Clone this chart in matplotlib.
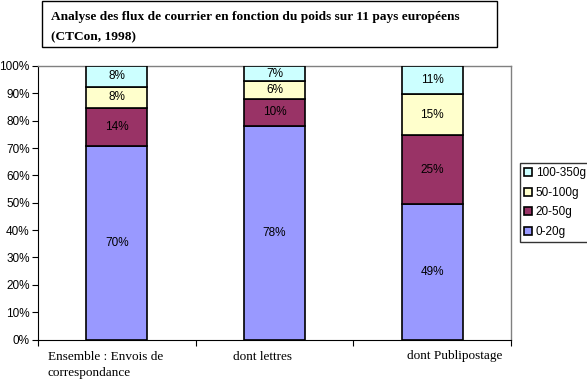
import matplotlib
matplotlib.use("Agg")
import matplotlib.pyplot as plt
import numpy as np
from matplotlib.patches import Rectangle
import matplotlib.transforms as mtransforms

categories = ["Ensemble : Envois de\ncorrespondance", "dont lettres", "dont Publipostage"]
series_names = ["0-20g", "20-50g", "50-100g", "100-350g"]
# segment shares (%) as measured from the bars
v_0_20 = [70.6, 78.2, 49.4]
v_20_50 = [14.0, 9.8, 25.2]
v_50_100 = [7.8, 6.6, 15.0]
v_100_350 = [7.6, 5.5, 10.4]
# printed data labels
lab_0_20 = ["70%", "78%", "49%"]
lab_20_50 = ["14%", "10%", "25%"]
lab_50_100 = ["8%", "6%", "15%"]
lab_100_350 = ["8%", "7%", "11%"]
colors = ["#9999FF", "#993366", "#FFFFCC", "#CCFFFF"]
yticklabels = ["0%", "10%", "20%", "30%", "40%", "50%", "60%", "70%", "80%", "90%", "100%"]

W, H = 587, 379
fig = plt.figure(figsize=(W/100, H/100), dpi=100)
ax = fig.add_axes([38/W, 1-339.5/H, (511-38)/W, (339.5-66)/H])

data = np.array([v_0_20, v_20_50, v_50_100, v_100_350], dtype=float)
labels = [lab_0_20, lab_20_50, lab_50_100, lab_100_350]
totals = data.sum(axis=0)
frac = data / totals * 100
x = np.arange(len(categories))
bottom = np.zeros(len(categories))
handles = []
for i, name in enumerate(series_names):
    b = ax.bar(x, frac[i], bottom=bottom, width=0.387, color=colors[i],
               edgecolor="black", linewidth=1.2, label=name, zorder=3)
    handles.append(b)
    for j in range(len(categories)):
        ax.text(x[j], bottom[j] + frac[i][j]/2, labels[i][j],
                ha="center", va="center", fontsize=8.5, family="Liberation Sans", zorder=4)
    bottom += frac[i]

ax.set_xlim(-0.5, 2.5)
ax.set_ylim(0, 100)
ax.set_yticks(np.arange(0, 101, 10))
ax.set_yticklabels(yticklabels, family="Liberation Sans", fontsize=8.5)
ax.set_xticks([-0.5, 0.5, 1.5, 2.5])
ax.set_xticklabels([])
ax.tick_params(axis="x", which="major", length=4, direction="out", color="black")
ax.tick_params(axis="y", length=4, direction="out", pad=2)

# category labels, left-aligned below each category
label_offsets = [-0.437, -0.262, -0.16]
for xi, txt, off in zip(x, categories, label_offsets):
    ax.text(xi + off, 0, txt, transform=mtransforms.blended_transform_factory(ax.transData, ax.transAxes)
            + mtransforms.ScaledTranslation(0, -11/100, fig.dpi_scale_trans),
            ha="left", va="top", family="Liberation Serif", fontsize=9.5, linespacing=1.45)

for s in ["top", "right"]:
    ax.spines[s].set_color("#808080")
    ax.spines[s].set_linewidth(1)
ax.spines["left"].set_color("black")
ax.spines["bottom"].set_color("black")

# Title box
fig.patches.append(Rectangle((42/W, 1-47/H), (497-42)/W, 46/H, transform=fig.transFigure,
                             facecolor="white", edgecolor="black", linewidth=1))
fig.text(51/W, 1-27/H, "Analyse des flux de courrier en fonction du poids sur 11 pays européens\n(CTCon, 1998)",
         ha="left", va="center", family="Liberation Serif", fontweight="bold", fontsize=9.6,
         linespacing=1.85)

leg = fig.legend(handles[::-1], series_names[::-1], loc="upper left",
                 bbox_to_anchor=(520/W, 1-163/H), frameon=True, fancybox=False,
                 edgecolor="black", prop={"family": "Liberation Sans", "size": 8.5},
                 handlelength=0.7, handleheight=0.7, handletextpad=0.3,
                 borderpad=0.35, labelspacing=0.65, borderaxespad=0)
leg.get_frame().set_linewidth(1)

fig.savefig("out.png", dpi=100)
